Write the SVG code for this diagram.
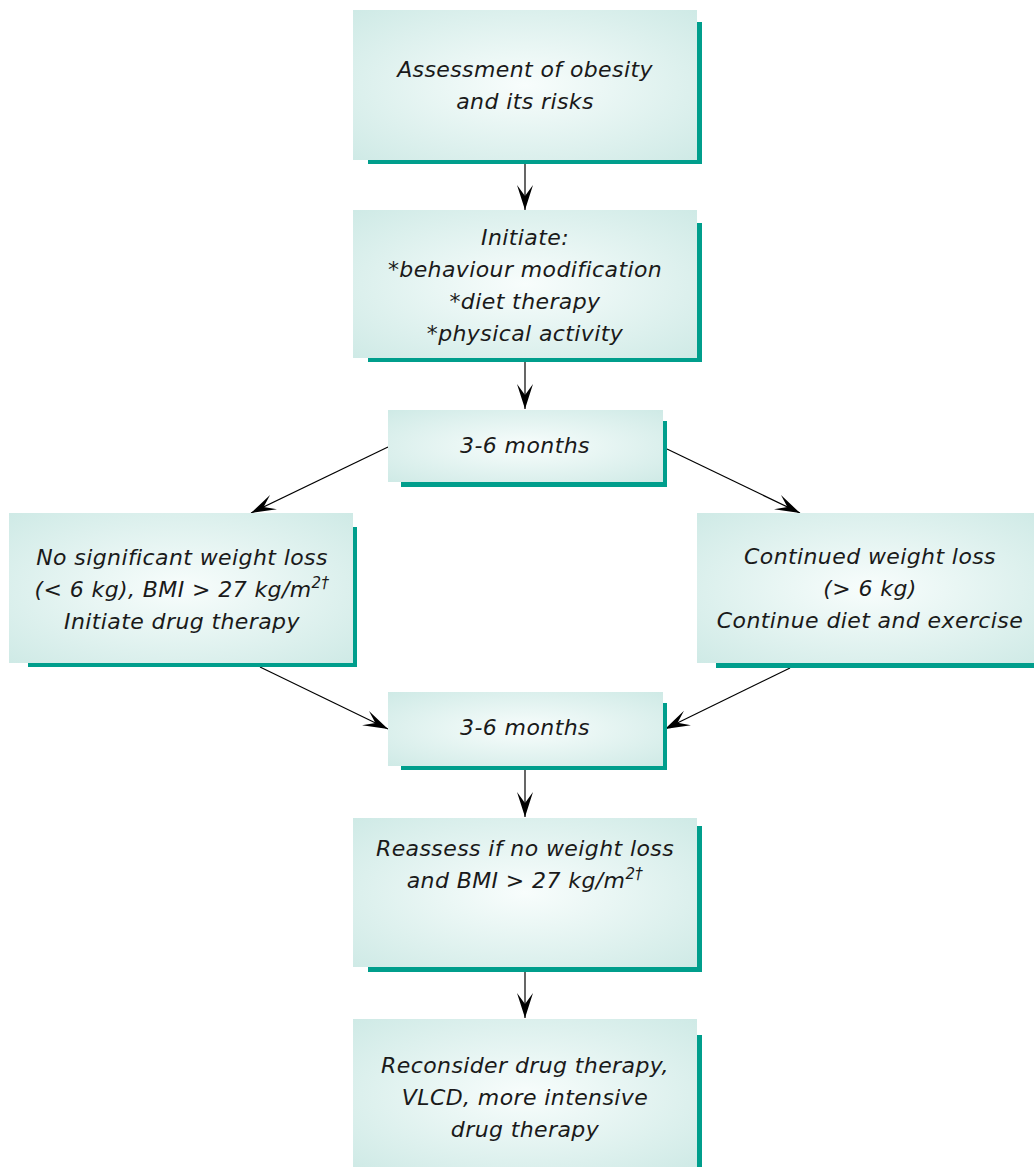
<svg xmlns="http://www.w3.org/2000/svg" width="1034" height="1167" viewBox="0 0 1034 1167">
<style>
.box{fill:url(#g);}
.sh{fill:#009e8c;}
.t{font-family:"DejaVu Sans",sans-serif;font-style:italic;font-size:22px;fill:#1a1a1a;text-anchor:middle;letter-spacing:0.4px;}
.sup{font-size:15px;}
.c{stroke:#000;stroke-width:1.2;fill:none;marker-end:url(#ah);}
</style>
<defs>
<radialGradient id="g" cx="50%" cy="50%" r="70%">
<stop offset="0" stop-color="#f8fdfc"/>
<stop offset="1" stop-color="#cfeae6"/>
</radialGradient>
<marker id="ah" markerUnits="userSpaceOnUse" markerWidth="30" markerHeight="20" viewBox="-26 -10 30 20" refX="0" refY="0" orient="auto">
<path d="M0,0 L-25,-8 L-14,0 L-25,8 z" fill="#000"/>
</marker>
</defs>
<g id="connectors">
<line class="c" x1="525" y1="164" x2="525" y2="210"/>
<line class="c" x1="525" y1="362" x2="525" y2="409"/>
<line class="c" x1="388" y1="447" x2="251" y2="513"/>
<line class="c" x1="667" y1="449" x2="800" y2="513"/>
<line class="c" x1="260" y1="667" x2="388" y2="729"/>
<line class="c" x1="790" y1="668" x2="665" y2="729"/>
<line class="c" x1="525" y1="770" x2="525" y2="817"/>
<line class="c" x1="525" y1="972" x2="525" y2="1018"/>
</g>
<g id="n1">
<rect class="sh" x="368" y="22" width="334" height="142"/>
<rect class="box" x="353" y="10" width="344" height="150"/>
<text class="t" x="525" y="77">Assessment of obesity</text>
<text class="t" x="525" y="109">and its risks</text>
</g>
<g id="n2">
<rect class="sh" x="368" y="223" width="334" height="139"/>
<rect class="box" x="353" y="210" width="344" height="148"/>
<text class="t" x="525" y="245">Initiate:</text>
<text class="t" x="525" y="277">*behaviour modification</text>
<text class="t" x="525" y="309">*diet therapy</text>
<text class="t" x="525" y="341">*physical activity</text>
</g>
<g id="n3">
<rect class="sh" x="401" y="421" width="266" height="66"/>
<rect class="box" x="388" y="410" width="275" height="72"/>
<text class="t" x="525" y="453">3-6 months</text>
</g>
<g id="n4">
<rect class="sh" x="28" y="527" width="329" height="140"/>
<rect class="box" x="9" y="513" width="344" height="150"/>
<text class="t" x="182" y="565">No significant weight loss</text>
<text class="t" x="182" y="597">(&lt; 6 kg), BMI &gt; 27 kg/m<tspan class="sup" dy="-9">2†</tspan></text>
<text class="t" x="182" y="629">Initiate drug therapy</text>
</g>
<g id="n5">
<rect class="sh" x="716" y="527" width="330" height="141"/>
<rect class="box" x="697" y="513" width="344" height="150"/>
<text class="t" x="870" y="564">Continued weight loss</text>
<text class="t" x="870" y="596">(&gt; 6 kg)</text>
<text class="t" x="870" y="628">Continue diet and exercise</text>
</g>
<g id="n6">
<rect class="sh" x="401" y="703" width="266" height="67"/>
<rect class="box" x="388" y="692" width="275" height="74"/>
<text class="t" x="525" y="735">3-6 months</text>
</g>
<g id="n7">
<rect class="sh" x="368" y="826" width="334" height="146"/>
<rect class="box" x="353" y="818" width="344" height="149"/>
<text class="t" x="525" y="856">Reassess if no weight loss</text>
<text class="t" x="525" y="888">and BMI &gt; 27 kg/m<tspan class="sup" dy="-9">2†</tspan></text>
</g>
<g id="n8">
<rect class="sh" x="368" y="1035" width="334" height="140"/>
<rect class="box" x="353" y="1019" width="344" height="150"/>
<text class="t" x="525" y="1073">Reconsider drug therapy,</text>
<text class="t" x="525" y="1105">VLCD, more intensive</text>
<text class="t" x="525" y="1137">drug therapy</text>
</g>
</svg>
